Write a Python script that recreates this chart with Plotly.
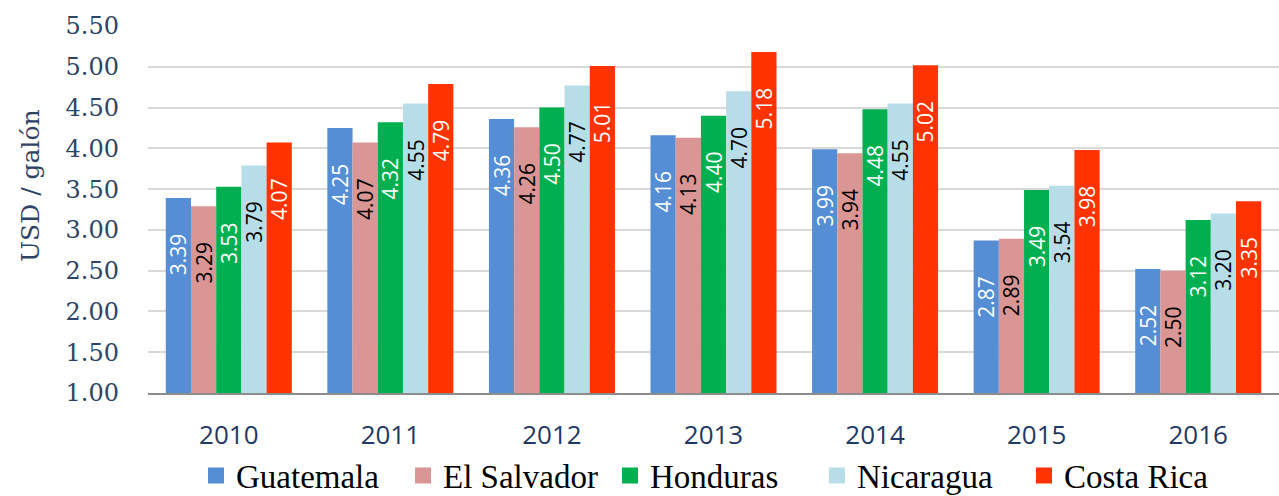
import plotly.graph_objects as go

years = ["2010", "2011", "2012", "2013", "2014", "2015", "2016"]
guatemala = [3.39, 4.25, 4.36, 4.16, 3.99, 2.87, 2.52]
el_salvador = [3.29, 4.07, 4.26, 4.13, 3.94, 2.89, 2.50]
honduras = [3.53, 4.32, 4.50, 4.40, 4.48, 3.49, 3.12]
nicaragua = [3.79, 4.55, 4.77, 4.70, 4.55, 3.54, 3.20]
costa_rica = [4.07, 4.79, 5.01, 5.18, 5.02, 3.98, 3.35]

series = [
    ("Guatemala", guatemala, "#558ED5", "white"),
    ("El Salvador", el_salvador, "#D99694", "black"),
    ("Honduras", honduras, "#00B050", "white"),
    ("Nicaragua", nicaragua, "#B7DEE8", "black"),
    ("Costa Rica", costa_rica, "#FF3300", "white"),
]

fig = go.Figure()
for name, vals, color, tcol in series:
    fig.add_trace(go.Bar(
        x=years, y=vals, name=name, showlegend=False, legendgroup=name,
        marker=dict(color=color, line=dict(width=0)),
        text=[f"{v:.2f}" + "\u00a0" * 6 for v in vals],
        textposition="inside", insidetextanchor="end", textangle=-90,
        textfont=dict(family="Open Sans", size=21, color=tcol),
        constraintext="none",
        cliponaxis=False,
    ))
# legend proxies (square swatches)
for name, vals, color, tcol in series:
    fig.add_trace(go.Scatter(
        x=[None], y=[None], name=name, legendgroup=name, mode="markers",
        marker=dict(symbol="square", size=20, color=color, line=dict(width=0)),
        showlegend=True, hoverinfo="skip",
    ))

fig.update_layout(
    width=1279, height=496,
    margin=dict(l=148, r=0, t=26, b=103, autoexpand=False),
    paper_bgcolor="white", plot_bgcolor="white",
    barmode="group", bargap=0.22, bargroupgap=0,
    uniformtext=dict(mode="show", minsize=21),
    showlegend=True,
    legend=dict(orientation="h", x=0.5, xanchor="center", y=-0.225, yanchor="middle",
                font=dict(family="Liberation Serif", size=33, color="black"),
                entrywidth=162, entrywidthmode="pixels", itemsizing="trace",
                itemwidth=30, traceorder="normal", bgcolor="rgba(0,0,0,0)"),
    xaxis=dict(showgrid=False, showline=True, linecolor="#8C8C8C", linewidth=2,
               tickfont=dict(family="Open Sans", size=26, color="#1F3864"),
               ticks="", ticklabelstandoff=18, automargin=False,
               categoryorder="array", categoryarray=years),
    yaxis=dict(range=[1, 5.5], dtick=0.5, tick0=1, tickformat=".2f",
               showgrid=True, gridcolor="#D9D9D9", gridwidth=2, zeroline=False,
               tickfont=dict(family="DejaVu Serif", size=24, color="#2E4466"),
               ticklabelstandoff=28, automargin=False),
    annotations=[dict(text="USD / galón", xref="paper", yref="paper",
                      x=-0.1043, y=0.564, xanchor="center", yanchor="middle",
                      textangle=-90, showarrow=False,
                      font=dict(family="DejaVu Serif", size=25, color="#2E4466"))],
)

fig.write_html("out.html", config={"displayModeBar": False},
               post_script="document.body.style.margin='0px';document.body.style.overflow='hidden';")
